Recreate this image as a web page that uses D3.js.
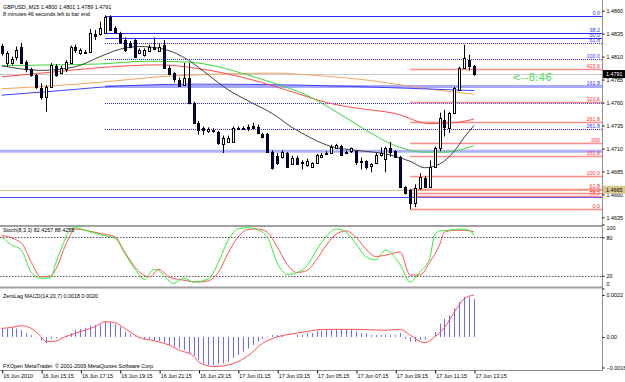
<!DOCTYPE html>
<meta charset="utf-8">
<style>
body { margin: 0; background: #fff; }
svg text { font-family: "Liberation Sans", Arial, sans-serif; font-size: 5.4px; fill: #000; }
</style>
<body>
<div id="chart"></div>
<script src="https://d3js.org/d3.v7.min.js"></script>
<script>
// ---- candles (GBPUSD M15), one per bar, bar 0 = 16 Jun 13:15
var opens = [1.4822,1.4803,1.4803,1.4809,1.4821,1.4804,1.4796,1.4790,1.4776,1.4766,
  1.4777,1.4800,1.4793,1.4796,1.4804,1.4821,1.4814,1.4814,1.4815,1.4835,
  1.4834,1.4836,1.4853,1.4841,1.4836,1.4828,1.4825,1.4828,1.4814,1.4812,
  1.4817,1.4821,1.4817,1.4823,1.4798,1.4792,1.4785,1.4779,1.4787,1.4760,
  1.4738,1.4732,1.4729,1.4730,1.4728,1.4714,1.4717,1.4717,1.4731,1.4731,
  1.4732,1.4734,1.4733,1.4726,1.4726,1.4706,1.4702,1.4701,1.4705,1.4694,
  1.4700,1.4695,1.4692,1.4690,1.4694,1.4701,1.4704,1.4705,1.4711,1.4713,
  1.4705,1.4707,1.4707,1.4696,1.4696,1.4691,1.4694,1.4703,1.4698,1.4710,
  1.4707,1.4701,1.4668,1.4665,1.4651,1.4667,1.4678,1.4668,1.4690,1.4710,
  1.4741,1.4733,1.4749,1.4774,1.4798,1.4806,1.4800];
var highs = [1.4824,1.4816,1.4810,1.4821,1.4825,1.4806,1.4798,1.4791,1.4781,1.4779,
  1.4803,1.4802,1.4800,1.4806,1.4822,1.4823,1.4819,1.4817,1.4840,1.4839,
  1.4848,1.4855,1.4855,1.4843,1.4837,1.4831,1.4827,1.4829,1.4819,1.4819,
  1.4823,1.4831,1.4824,1.4828,1.4800,1.4793,1.4787,1.4803,1.4803,1.4761,
  1.4740,1.4734,1.4733,1.4732,1.4729,1.4724,1.4724,1.4734,1.4734,1.4734,
  1.4736,1.4738,1.4736,1.4727,1.4727,1.4708,1.4705,1.4708,1.4706,1.4702,
  1.4702,1.4697,1.4699,1.4695,1.4704,1.4705,1.4707,1.4714,1.4715,1.4714,
  1.4708,1.4711,1.4708,1.4700,1.4697,1.4694,1.4705,1.4711,1.4712,1.4717,
  1.4708,1.4702,1.4669,1.4666,1.4671,1.4683,1.4680,1.4697,1.4712,1.4749,
  1.4752,1.4750,1.4777,1.4799,1.4823,1.4812,1.4801];
var lows = [1.4811,1.4799,1.4801,1.4806,1.4803,1.4793,1.4788,1.4775,1.4763,1.4750,
  1.4776,1.4788,1.4791,1.4793,1.4803,1.4814,1.4812,1.4813,1.4814,1.4828,
  1.4833,1.4835,1.4838,1.4835,1.4824,1.4815,1.4819,1.4809,1.4813,1.4810,
  1.4815,1.4817,1.4815,1.4797,1.4790,1.4782,1.4777,1.4778,1.4758,1.4737,
  1.4725,1.4725,1.4727,1.4727,1.4714,1.4705,1.4716,1.4716,1.4730,1.4730,
  1.4729,1.4731,1.4726,1.4721,1.4705,1.4687,1.4692,1.4699,1.4689,1.4692,
  1.4692,1.4687,1.4690,1.4689,1.4693,1.4700,1.4703,1.4704,1.4710,1.4702,
  1.4704,1.4705,1.4692,1.4687,1.4687,1.4684,1.4693,1.4701,1.4684,1.4701,
  1.4700,1.4667,1.4660,1.4644,1.4646,1.4665,1.4667,1.4667,1.4689,1.4707,
  1.4723,1.4727,1.4748,1.4773,1.4797,1.4795,1.4789];
var closes = [1.4814,1.4814,1.4807,1.4817,1.4804,1.4796,1.4790,1.4777,1.4766,1.4777,
  1.4801,1.4790,1.4798,1.4804,1.4821,1.4818,1.4817,1.4815,1.4836,1.4833,
  1.4841,1.4853,1.4839,1.4837,1.4826,1.4817,1.4821,1.4810,1.4817,1.4817,
  1.4821,1.4819,1.4821,1.4798,1.4792,1.4785,1.4779,1.4787,1.4760,1.4738,
  1.4730,1.4730,1.4731,1.4729,1.4716,1.4721,1.4721,1.4732,1.4732,1.4732,
  1.4733,1.4732,1.4727,1.4723,1.4706,1.4689,1.4694,1.4706,1.4690,1.4700,
  1.4694,1.4694,1.4696,1.4694,1.4703,1.4703,1.4705,1.4712,1.4714,1.4703,
  1.4706,1.4710,1.4695,1.4695,1.4690,1.4693,1.4703,1.4705,1.4710,1.4706,
  1.4701,1.4668,1.4662,1.4651,1.4667,1.4679,1.4668,1.4690,1.4711,1.4743,
  1.4733,1.4749,1.4776,1.4798,1.4809,1.4799,1.4791];

// moving averages, read at some bars: [bar, price]
var maGreen = [[0,1.4800],[10,1.4801],[20,1.4802],[30,1.4805],[38,1.4804],[44,1.4799],[50,1.4790],[56,1.4780],[62,1.4768],[68,1.4750],[74,1.4730],[80,1.4713],[86,1.4706],[90,1.4706],[96,1.4713]];
var maRed = [[0,1.4788],[10,1.4793],[20,1.4798],[32,1.4801],[40,1.4797],[50,1.4786],[60,1.4770],[66,1.4760],[72,1.4754],[80,1.4748],[87,1.4737],[92,1.4738],[96,1.4742]];
var maOrange = [[0,1.4775],[10,1.4778],[20,1.4782],[32,1.4788],[45,1.4791],[55,1.4792],[65,1.4789],[75,1.4784],[85,1.4776],[96,1.4769]];
var maBlue = [[0,1.4768],[12,1.4773],[24,1.4778],[40,1.4780],[60,1.4779],[80,1.4776],[96,1.4773]];
var maBlack = [[0,1.4800],[8,1.4795],[15,1.4799],[20,1.4810],[24,1.4818],[28,1.4821],[33,1.4818],[38,1.4806],[42,1.4790],[46,1.4774],[50,1.4762],[55,1.4748],[59,1.4733],[63,1.4721],[67,1.4712],[72,1.4708],[79,1.4703],[83,1.4696],[86,1.4689],[89,1.4693],[92,1.4707],[94,1.4722],[96,1.4735]];

// fibonacci objects (blue 200 level has no visible label in the original)
var fibBlueLevels = [0, 38.2, 50, 61.8, 100, 161.8, 200, 261.8];
var fibBlueHidden = [200];
var fibBlue0 = 1.4854, fibBlue100 = 1.4807;
var fibRedLevels = [0, 38.2, 50, 61.8, 100, 161.8, 200, 261.8, 323.6, 423.6];
var fibRed0 = 1.4644, fibRed100 = 1.4680;

var priceTicks = [1.4860,1.4835,1.4810,1.4785,1.4760,1.4735,1.4710,1.4685,1.4660,1.4635];
var timeLabels = ["16 Jun 2010","16 Jun 15:15","16 Jun 17:15","16 Jun 19:15","16 Jun 21:15","16 Jun 23:15","17 Jun 01:15","17 Jun 03:15","17 Jun 05:15","17 Jun 07:15","17 Jun 09:15","17 Jun 11:15","17 Jun 13:15"];
var lastPrice = 1.4791, hLinePrice = 1.4665, bandPrice = 1.4707, blueLinePrice = 1.4657;

// stochastic (8,3,3) [bar, value]
var stochK = [[0,81],[2,68],[4,60],[6,25],[8,16],[10,17],[11,40],[12,60],[13,79],[14,93],[15,95],[17,91],[20,84],[22,81],[23,79],[25,55],[28,21],[29,14],[31,30],[32,28],[33,20],[35,8],[37,16],[39,10],
  [42,15],[44,40],[46,75],[48,93],[50,95],[52,92],[54,80],[56,40],[58,22],[60,25],[62,35],[64,60],[66,82],[68,93],[70,88],[72,70],[74,50],[76,45],[78,60],[81,37],[83,10],[85,26],[87,47],[88,84],[89,90],[91,91],[93,93],[95,91],[96,82.4]];
var stochD = [[0,83],[4,71],[6,41],[8,18],[10,20],[11,30],[13,68],[15,93],[17,91],[20,86],[23,81],[25,57],[28,26],[30,18],[32,30],[34,18],[37,13],[40,10],
  [42,12],[44,25],[46,55],[48,80],[50,92],[52,93],[54,88],[56,65],[58,38],[60,25],[62,28],[64,45],[66,68],[68,85],[70,90],[72,80],[74,62],[76,50],[78,52],[81,57],[83,21],[85,21],[87,41],[89,68],[90,88],[92,91],[94,91],[96,88.4]];
var stochTicks = [100, 80, 20, 0];

// zerolag MACD (14,20,7): histogram per bar, signal [bar, value]
var macdHist = [0.00045,0.00045,0.00049,0.00045,0.00037,0.00019,0.0001,-0.00003,-0.0002,-0.00033,
  -0.0001,-0.00007,-0.00003,0.00007,0.00019,0.00037,0.00042,0.00049,0.00059,0.00063,
  0.00066,0.0008,0.00077,0.00066,0.00054,0.00028,0.00014,0.00002,-0.00007,-0.00012,
  -0.00012,-0.00016,-0.00021,-0.00028,-0.00042,-0.00051,-0.00059,-0.00068,-0.00086,-0.00098,
  -0.0012,-0.0014,-0.00147,-0.00147,-0.0014,-0.00138,-0.0013,-0.0011,-0.00094,-0.00077,
  -0.0006,-0.00042,-0.00024,-0.0001,0.00002,0.0001,0.0001,0.0001,0,0,
  0.0001,0.0001,0.0002,0.0002,0.0003,0.0003,0.0004,0.0004,0.0004,0.0004,
  0.0004,0.0004,0.0003,0.0002,0.0002,0.0001,0.0001,0.0001,0.0001,0.0001,
  0.0001,0.0002,-0.0001,-0.00025,-0.00025,-0.00015,-0.00015,0,0.00026,0.0007,
  0.00096,0.00113,0.0015,0.00183,0.0021,0.0021,0.0020];
var macdSignal = [[0,0.00045],[2,0.0005],[4,0.00059],[6,0.00045],[8,0.00002],[9,-0.00024],[11,-0.00021],[13,0.00002],[16,0.00028],[19,0.00054],[21,0.0008],[23,0.00075],[25,0.00045],[28,-0.00003],[31,-0.0002],[34,-0.00042],[36,-0.00068],[39,-0.001],[40,-0.0013],[43,-0.00155],[46,-0.00147],[50,-0.001],[53,-0.00033],[56,0],[60,0.0002],[66,0.0004],[72,0.0004],[78,0.00035],[81,0.0004],[83,0.0001],[86,-0.0003],[88,0],[90,0.0005],[92,0.0013],[94,0.002],[96,0.0022]];
var macdTicks = [0.0022, 0, -0.0016];

var W = 625, H = 382, axisX = 602;

var svg = d3.select("#chart").append("svg")
    .attr("width", W).attr("height", H);

var x = d3.scaleLinear().domain([0, 96]).range([1.7, 474]);
var y = d3.scaleLinear().domain([1.4635, 1.4860]).range([217.3, 10.7]);
var ys = d3.scaleLinear().domain([0, 100]).range([288.5, 224.5]);
var ym = d3.scaleLinear().domain([-0.0016, 0.0022]).range([367.5, 295]);

function bx(i) { return Math.round(x(i)); }
function py(p) { return Math.round(y(p)) + 0.5; }

var defs = svg.append("defs");
defs.append("clipPath").attr("id", "clipMain").append("rect").attr("x", 0).attr("y", 0).attr("width", axisX).attr("height", 225);
defs.append("clipPath").attr("id", "clipStoch").append("rect").attr("x", 0).attr("y", 227).attr("width", axisX).attr("height", 60);
defs.append("clipPath").attr("id", "clipMacd").append("rect").attr("x", 0).attr("y", 289).attr("width", axisX).attr("height", 82);

var main = svg.append("g").attr("clip-path", "url(#clipMain)");

// full width horizontal lines
main.append("line").attr("x1", 0).attr("x2", axisX)
    .attr("y1", y(bandPrice)).attr("y2", y(bandPrice))
    .attr("stroke", "#b0b0ff").attr("stroke-width", 3);
main.append("line").attr("x1", 0).attr("x2", axisX)
    .attr("y1", py(hLinePrice)).attr("y2", py(hLinePrice))
    .attr("stroke", "#d8c08c").attr("stroke-width", 1);
main.append("line").attr("x1", 0).attr("x2", axisX)
    .attr("y1", py(blueLinePrice)).attr("y2", py(blueLinePrice))
    .attr("stroke", "#4848ff").attr("stroke-width", 1.2);
main.append("line").attr("x1", 0).attr("x2", axisX)
    .attr("y1", py(lastPrice)).attr("y2", py(lastPrice))
    .attr("stroke", "#c8c8c8").attr("stroke-width", 1);

function levelText(l) { return l === 0 ? "0.0" : l === 50 ? "50.0" : l === 100 ? "100.0" : String(l); }

// blue fibo
var fbStart = bx(21);
fibBlueLevels.forEach(function(l) {
    var yy = py(fibBlue0 + (fibBlue100 - fibBlue0) * l / 100);
    var thick = (l === 161.8);
    var dotted = !(l === 0 || l === 38.2 || l === 50 || thick);
    main.append("line").attr("x1", fbStart).attr("x2", axisX)
        .attr("y1", yy).attr("y2", yy)
        .attr("stroke", thick ? "#a8a8ff" : "#2a2aff")
        .attr("stroke-width", thick ? 3 : 1)
        .attr("shape-rendering", dotted ? "crispEdges" : null)
        .attr("stroke-dasharray", dotted ? "1,1" : null);
    if (fibBlueHidden.indexOf(l) < 0) {
        main.append("text").attr("x", 600).attr("y", yy - 1.5)
            .attr("text-anchor", "end").style("fill", "#3030ff")
            .text(levelText(l));
    }
});

// red fibo
var frStart = bx(83);
fibRedLevels.forEach(function(l) {
    var yy = py(fibRed0 + (fibRed100 - fibRed0) * l / 100);
    main.append("line").attr("x1", frStart).attr("x2", axisX)
        .attr("y1", yy).attr("y2", yy)
        .attr("stroke", "#ff8a8a").attr("stroke-width", 1.5);
    main.append("text").attr("x", 600).attr("y", yy - 1.5)
        .attr("text-anchor", "end").style("fill", "#ff3030")
        .text(levelText(l));
});

// moving averages
var maLine = d3.line()
    .x(function(d) { return x(d[0]); })
    .y(function(d) { return y(d[1]); })
    .curve(d3.curveMonotoneX);
[[maOrange, "#f4a460"], [maBlue, "#4040ff"], [maRed, "#ff4a4a"], [maGreen, "#3ad83a"], [maBlack, "#404040"]]
  .forEach(function(m) {
    main.append("path").datum(m[0])
        .attr("fill", "none").attr("stroke", m[1]).attr("stroke-width", 1)
        .attr("d", maLine);
  });

// candles
var candles = main.selectAll(".candle").data(opens).enter().append("g").attr("class", "candle");
candles.append("line")
    .attr("x1", function(d, i) { return bx(i) + 0.5; })
    .attr("x2", function(d, i) { return bx(i) + 0.5; })
    .attr("y1", function(d, i) { return y(highs[i]); })
    .attr("y2", function(d, i) { return y(lows[i]); })
    .attr("stroke", "#000").attr("stroke-width", 1);
candles.append("rect")
    .attr("x", function(d, i) { return bx(i) - 0.5; })
    .attr("width", 2)
    .attr("y", function(d, i) { return Math.round(y(Math.max(opens[i], closes[i]))) + 0.5; })
    .attr("height", function(d, i) { return Math.max(1, Math.round(Math.abs(y(opens[i]) - y(closes[i])))); })
    .attr("fill", function(d, i) { return closes[i] < opens[i] ? "#000080" : "#fff"; })
    .attr("stroke", "#000").attr("stroke-width", 1);

// header texts
svg.append("text").attr("x", 3).attr("y", 9).text("GBPUSD,,M15  1.4800 1.4801 1.4789 1.4791");
svg.append("text").attr("x", 3).attr("y", 15.5).text("8 minutes 46 seconds left to bar end");
svg.append("text").attr("x", 512).attr("y", 81)
    .style("font-family", "'DejaVu Sans', sans-serif").style("font-size", "10.5px").style("fill", "#4ee04e")
    .text("<--8:46");

// stochastic window
var st = svg.append("g").attr("clip-path", "url(#clipStoch)");
[80, 20].forEach(function(v) {
    st.append("line").attr("x1", 0).attr("x2", axisX)
        .attr("y1", Math.round(ys(v)) + 0.5).attr("y2", Math.round(ys(v)) + 0.5)
        .attr("stroke", "#555").attr("stroke-dasharray", "1.5,1.5");
});
var stLine = d3.line()
    .x(function(d) { return x(d[0]); })
    .y(function(d) { return ys(d[1]); })
    .curve(d3.curveMonotoneX);
st.append("path").datum(stochD).attr("fill", "none").attr("stroke", "#ff5050").attr("stroke-width", 1).attr("d", stLine);
st.append("path").datum(stochK).attr("fill", "none").attr("stroke", "#33ee33").attr("stroke-width", 1).attr("d", stLine);
svg.append("text").attr("x", 3).attr("y", 232).text("Stoch(8,3,3) 82.4257 88.4258");

// macd window
var mc = svg.append("g").attr("clip-path", "url(#clipMacd)");
mc.selectAll(".hist").data(macdHist).enter().append("line")
    .attr("x1", function(d, i) { return bx(i) + 0.5; })
    .attr("x2", function(d, i) { return bx(i) + 0.5; })
    .attr("y1", ym(0))
    .attr("y2", function(d) { return ym(d); })
    .attr("stroke", "#6a6aff").attr("stroke-width", 1);
var mLine = d3.line()
    .x(function(d) { return x(d[0]); })
    .y(function(d) { return ym(d[1]); })
    .curve(d3.curveMonotoneX);
mc.append("path").datum(macdSignal).attr("fill", "none").attr("stroke", "#ff5050").attr("stroke-width", 1).attr("d", mLine);
svg.append("text").attr("x", 3).attr("y", 298).text("ZeroLag MACD(14,20,7) 0.0018 0.0020");
svg.append("text").attr("x", 3).attr("y", 368).text("FXOpen MetaTrader. \u00a9 2001-2009 MetaQuotes Software Corp.");

// frame and separators
svg.append("line").attr("x1", axisX + 0.5).attr("x2", axisX + 0.5).attr("y1", 0).attr("y2", 371)
    .attr("stroke", "#909090");
[226, 287.5].forEach(function(yy) {
    svg.append("line").attr("x1", 0).attr("x2", axisX).attr("y1", yy).attr("y2", yy)
        .attr("stroke", "#a0a0a0").attr("stroke-width", 2);
});
svg.append("line").attr("x1", 0).attr("x2", axisX + 1).attr("y1", 370.5).attr("y2", 370.5)
    .attr("stroke", "#909090");

// price axis
var yAxis = svg.append("g").attr("transform", "translate(" + (axisX + 0.5) + ",0)")
    .call(d3.axisRight(y).tickValues(priceTicks).tickFormat(d3.format(".4f")).tickSize(2).tickPadding(2));
yAxis.select(".domain").remove();
yAxis.selectAll("text").style("font-size", "5.4px").style("font-family", "'Liberation Sans', Arial, sans-serif");

var boxes = [[lastPrice, "#000", "#fff"], [hLinePrice, "#d8c890", "#000"]];
boxes.forEach(function(b) {
    var yy = y(b[0]);
    svg.append("rect").attr("x", 603).attr("y", yy - 4).attr("width", 22).attr("height", 8).attr("fill", b[1]);
    svg.append("text").attr("x", 606).attr("y", yy + 2).style("fill", b[2]).text(d3.format(".4f")(b[0]));
});

// stoch axis: end labels pulled inside the window
var sAxis = svg.append("g").attr("transform", "translate(" + (axisX + 0.5) + ",0)")
    .call(d3.axisRight(ys).tickValues(stochTicks).tickSize(2).tickPadding(2));
sAxis.select(".domain").remove();
sAxis.selectAll("text").style("font-size", "5.4px")
    .attr("dy", function(d) { return d === 100 ? "0.95em" : d === 0 ? "-0.6em" : "0.32em"; });

// macd axis
var mAxis = svg.append("g").attr("transform", "translate(" + (axisX + 0.5) + ",0)")
    .call(d3.axisRight(ym).tickValues(macdTicks)
        .tickFormat(function(d) { return d === 0 ? "0.00" : d3.format(".4f")(d); })
        .tickSize(2).tickPadding(2));
mAxis.select(".domain").remove();
mAxis.selectAll("text").style("font-size", "5.4px");

// time axis
var xAxis = svg.append("g").attr("transform", "translate(0,370.5)")
    .call(d3.axisBottom(x).tickValues(d3.range(0, 97, 8))
        .tickFormat(function(d, i) { return timeLabels[i]; })
        .tickSize(3).tickPadding(1));
xAxis.select(".domain").remove();
xAxis.selectAll("text").attr("text-anchor", "start").attr("dx", "1px").style("font-size", "5.4px");
xAxis.selectAll(".tick line").attr("transform", "translate(0.5,0)");
</script>
</body>
